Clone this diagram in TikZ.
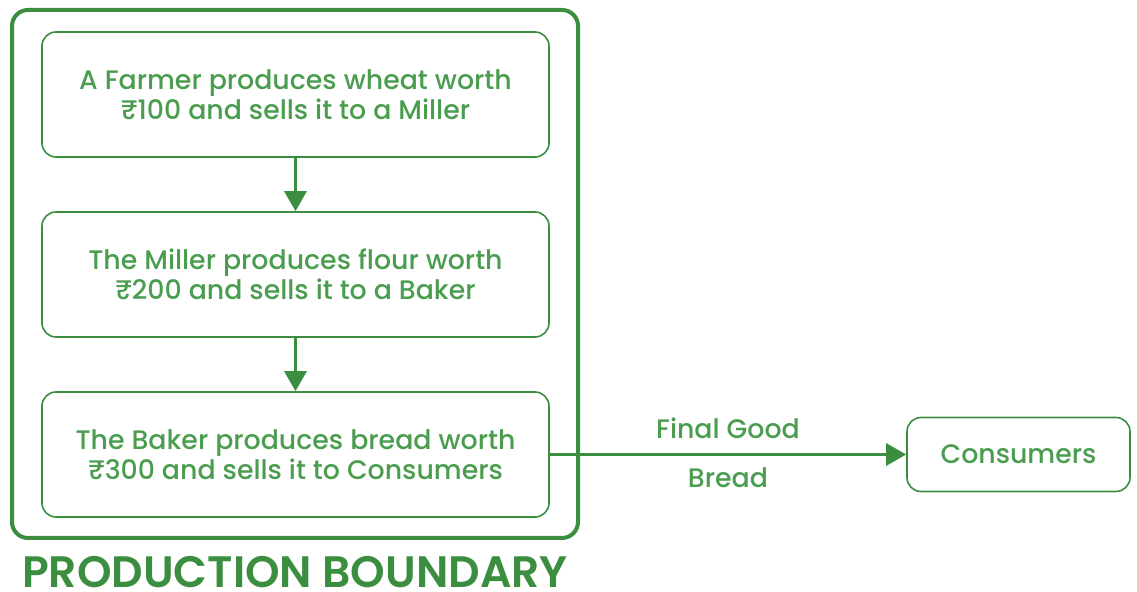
\documentclass[tikz,border=0pt]{standalone}
\usepackage{fontspec}
\setmainfont{Poppins}[UprightFont=* Medium,BoldFont=* SemiBold]
\usetikzlibrary{arrows.meta,positioning}
\definecolor{lineGreen}{HTML}{3B8D3F}
\definecolor{textGreen}{HTML}{4A9D4E}

\begin{document}
\begin{tikzpicture}[x=0.5pt,y=-0.5pt,
    stagebox/.style={draw=lineGreen,line width=0.8pt,rounded corners=7pt,
      minimum width=253.5pt,minimum height=62.5pt,align=center,
      text=textGreen,font=\fontsize{13.4}{15}\selectfont},
    flowlabel/.style={text=textGreen,font=\fontsize{13.4}{15}\selectfont},
    flowarrow/.style={draw=lineGreen,line width=1.5pt,
      -{Triangle[length=10pt,width=11pt]}}]
  \useasboundingbox (0,0) rectangle (1137,592);

  % production boundary
  \node[draw=lineGreen,line width=2pt,rounded corners=8pt,
    minimum width=283pt,minimum height=264pt] (boundary) at (295,274) {};
  \node[text=lineGreen,font=\fontsize{22}{24}\bfseries,inner sep=0pt]
    (boundarylabel) at (295,572.5) {PRODUCTION BOUNDARY};

  % the three stages
  \node[stagebox] (farmer) at (295.5,94.5)
    {A Farmer produces wheat worth\\₹100 and sells it to a Miller};
  \node[stagebox] (miller) at (295.5,274.5)
    {The Miller produces flour worth\\₹200 and sells it to a Baker};
  \node[stagebox] (baker) at (295.5,454.5)
    {The Baker produces bread worth\\₹300 and sells it to Consumers};

  \node[stagebox,minimum width=111.5pt,minimum height=37pt] (consumers)
    at (1018.5,454.5) {Consumers};

  \draw[flowarrow] (farmer) -- (miller);
  \draw[flowarrow] (miller) -- (baker);
  \draw[flowarrow] (baker) -- (consumers);

  \node[flowlabel] (finalgood) at (728,428) {Final Good};
  \node[flowlabel] (bread) at (728,478) {Bread};
\end{tikzpicture}
\end{document}
